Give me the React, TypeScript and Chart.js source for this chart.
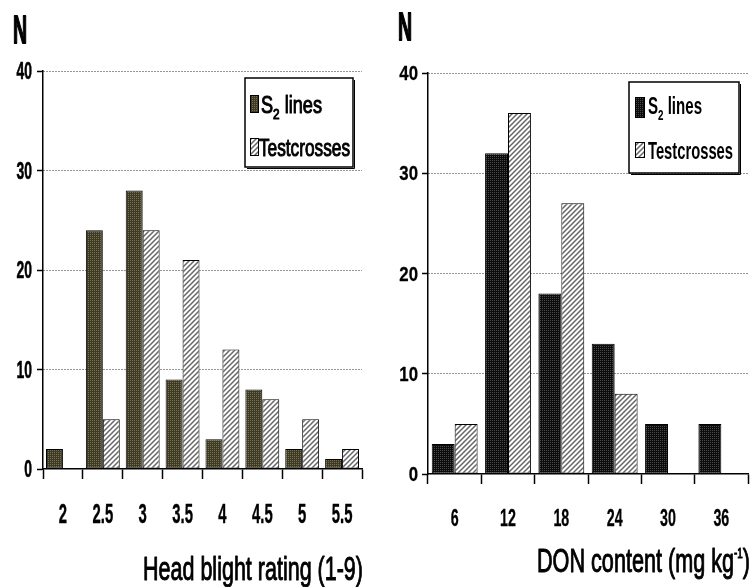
import React, { useEffect, useRef } from 'react';
import { Chart, registerables } from 'chart.js';

Chart.register(...registerables);

// ---------- data ----------
const ratingCategories = ['2', '2.5', '3', '3.5', '4', '4.5', '5', '5.5'];
const ratingS2Lines = [2, 24, 28, 9, 3, 8, 2, 1];
const ratingTestcrosses = [0, 5, 24, 21, 12, 7, 5, 2];

const donCategories = ['6', '12', '18', '24', '30', '36'];
const donS2Lines = [3, 32, 18, 13, 5, 5];
const donTestcrosses = [5, 36, 27, 8, 0, 0];

const yTickValues = [0, 10, 20, 30, 40];
const seriesNames = ['S₂ lines', 'Testcrosses'];
const yAxisLabel = 'N';
const leftXTitle = 'Head blight rating (1-9)';
const rightXTitleMain = 'DON content (mg kg';
const rightXTitleSup = '-1';
const rightXTitleEnd = ')';

// ---------- patterns ----------
function dotPattern(base: string, dot: string) {
  const c = document.createElement('canvas');
  c.width = 4;
  c.height = 4;
  const g = c.getContext('2d')!;
  g.fillStyle = base;
  g.fillRect(0, 0, 4, 4);
  g.fillStyle = dot;
  g.fillRect(0, 0, 1, 1);
  g.fillRect(2, 2, 1, 1);
  g.fillRect(2, 0, 1, 1);
  g.fillRect(0, 2, 1, 1);
  return g.createPattern(c, 'repeat') as CanvasPattern;
}

function hatchPattern() {
  const s = 5;
  const c = document.createElement('canvas');
  c.width = s;
  c.height = s;
  const g = c.getContext('2d')!;
  g.fillStyle = '#ffffff';
  g.fillRect(0, 0, s, s);
  g.strokeStyle = '#666666';
  g.lineWidth = 1.5;
  g.beginPath();
  g.moveTo(0, s);
  g.lineTo(s, 0);
  g.moveTo(-1, 1);
  g.lineTo(1, -1);
  g.moveTo(s - 1, s + 1);
  g.lineTo(s + 1, s - 1);
  g.stroke();
  return g.createPattern(c, 'repeat') as CanvasPattern;
}

// ---------- text helpers ----------
const FAM = '"Liberation Sans", Arial, sans-serif';

function drawScaled(
  ctx: CanvasRenderingContext2D,
  text: string,
  x: number,
  y: number,
  size: number,
  scaleX: number,
  weight = 'normal',
  align: 'left' | 'center' | 'right' = 'left',
  heavy = 0
) {
  ctx.save();
  ctx.font = `${weight} ${size}px ${FAM}`;
  ctx.textBaseline = 'alphabetic';
  ctx.textAlign = 'left';
  ctx.fillStyle = '#000';
  const w = ctx.measureText(text).width * scaleX;
  const sx = align === 'right' ? x - w : align === 'center' ? x - w / 2 : x;
  ctx.translate(sx, y);
  ctx.scale(scaleX, 1);
  ctx.fillText(text, 0, 0);
  if (heavy > 0) {
    ctx.strokeStyle = '#000';
    ctx.lineWidth = heavy;
    ctx.lineJoin = 'round';
    ctx.strokeText(text, 0, 0);
  }
  ctx.restore();
  return w;
}

function measure(ctx: CanvasRenderingContext2D, text: string, size: number, weight = 'normal') {
  ctx.save();
  ctx.font = `${weight} ${size}px ${FAM}`;
  const w = ctx.measureText(text).width;
  ctx.restore();
  return w;
}

// parts: [text, size, baselineOffset]
function drawFit(
  ctx: CanvasRenderingContext2D,
  parts: [string, number, number][],
  x: number,
  y: number,
  targetWidth: number,
  weight = 'normal',
  heavy = 0
) {
  let total = 0;
  parts.forEach(([t, s]) => (total += measure(ctx, t, s, weight)));
  const sx = targetWidth / total;
  let cx = x;
  parts.forEach(([t, s, dy]) => {
    cx += drawScaled(ctx, t, cx, y + dy, s, sx, weight, 'left', heavy);
  });
}

interface Box {
  x: number;
  y: number;
  w: number;
  h: number;
}

interface Decor {
  nX: number;
  nBase: number;
  legend: Box;
  sw1: Box;
  sw2: Box;
  t1: { x: number; base: number; w: number };
  t2: { x: number; base: number; w: number };
  legendWeight: string;
  legendHeavy: number;
  title: { x: number; base: number; w: number };
  titleParts: [string, number, number][];
  fills: [CanvasPattern, CanvasPattern];
  yTick: { size: number; scaleX: number; right: number; dy: number; heavy: number };
  xTick: { size: number; scaleX: number; base: number; heavy: number };
}

const decorPlugin = {
  id: 'panelDecor',
  afterDraw(chart: any, _args: any, opts: any) {
    const d: Decor = opts.decor;
    if (!d) return;
    const ctx: CanvasRenderingContext2D = chart.ctx;
    const xs = chart.scales.x;
    const ys = chart.scales.y;

    // tick labels, positioned by the chart's own scales
    xs.ticks.forEach((t: any, i: number) => {
      const label = String(xs.getLabelForValue(t.value));
      const px = xs.getPixelForTick(i);
      drawScaled(ctx, label, px, d.xTick.base, d.xTick.size, d.xTick.scaleX, 'bold', 'center', d.xTick.heavy);
    });
    ys.ticks.forEach((t: any) => {
      const py = ys.getPixelForValue(t.value);
      drawScaled(ctx, String(t.value), d.yTick.right, py + d.yTick.dy, d.yTick.size, d.yTick.scaleX, 'bold', 'right', d.yTick.heavy);
    });

    // N label
    drawScaled(ctx, yAxisLabel, d.nX, d.nBase, 39, 0.5, 'bold', 'left', 1.8);

    // legend box
    ctx.save();
    ctx.fillStyle = '#fff';
    ctx.fillRect(d.legend.x, d.legend.y, d.legend.w, d.legend.h);
    ctx.strokeStyle = '#000';
    ctx.lineWidth = 1.5;
    ctx.strokeRect(d.legend.x, d.legend.y, d.legend.w, d.legend.h);
    ctx.lineWidth = 1;
    ctx.beginPath();
    ctx.moveTo(d.legend.x + d.legend.w + 1.5, d.legend.y + 2);
    ctx.lineTo(d.legend.x + d.legend.w + 1.5, d.legend.y + d.legend.h + 1.5);
    ctx.lineTo(d.legend.x + 2, d.legend.y + d.legend.h + 1.5);
    ctx.stroke();
    [d.sw1, d.sw2].forEach((s, i) => {
      ctx.fillStyle = d.fills[i];
      ctx.fillRect(s.x, s.y, s.w, s.h);
      ctx.strokeStyle = '#000';
      ctx.lineWidth = 1;
      ctx.strokeRect(s.x + 0.5, s.y + 0.5, s.w - 1, s.h - 1);
    });
    ctx.restore();

    // legend texts
    drawFit(
      ctx,
      [
        ['S', 23, 0],
        ['2', 15, 6],
        [' lines', 23, 0],
      ],
      d.t1.x,
      d.t1.base,
      d.t1.w,
      d.legendWeight,
      d.legendHeavy
    );
    drawFit(ctx, [[seriesNames[1], 23, 0]], d.t2.x, d.t2.base, d.t2.w, d.legendWeight, d.legendHeavy);

    // axis title
    drawFit(ctx, d.titleParts, d.title.x, d.title.base, d.title.w, 'normal', 1);
  },
};

Chart.register(decorPlugin);

interface PanelSpec {
  categories: string[];
  s2: number[];
  tc: number[];
  s2Fill: CanvasPattern;
  tcFill: CanvasPattern;
  catPct: number;
  top: number;
  right: number;
  yWidth: number;
  xHeight: number;
  decor: Decor;
}

function makeConfig(p: PanelSpec): any {
  return {
    type: 'bar',
    data: {
      labels: p.categories,
      datasets: [
        {
          label: seriesNames[0],
          data: p.s2,
          backgroundColor: p.s2Fill,
          borderColor: '#000',
          borderWidth: 1,
          borderSkipped: false,
          categoryPercentage: p.catPct,
          barPercentage: 1,
        },
        {
          label: seriesNames[1],
          data: p.tc,
          backgroundColor: p.tcFill,
          borderColor: '#000',
          borderWidth: 1,
          borderSkipped: false,
          categoryPercentage: p.catPct,
          barPercentage: 1,
        },
      ],
    },
    options: {
      responsive: false,
      maintainAspectRatio: false,
      animation: false,
      events: [],
      layout: { padding: { top: p.top, right: p.right, left: 0, bottom: 0 } },
      plugins: {
        legend: { display: false },
        tooltip: { enabled: false },
        title: { display: false },
        panelDecor: { decor: p.decor },
      },
      scales: {
        x: {
          offset: true,
          grid: {
            offset: true,
            drawOnChartArea: false,
            drawTicks: true,
            tickLength: 10,
            tickColor: '#000',
            tickWidth: 1.5,
          },
          border: { display: true, color: '#000', width: 1.5 },
          ticks: { display: false, autoSkip: false, maxRotation: 0 },
          afterFit: (s: any) => {
            s.height = p.xHeight;
          },
        },
        y: {
          min: 0,
          max: 40,
          afterBuildTicks: (s: any) => {
            s.ticks = yTickValues.map((v) => ({ value: v }));
          },
          grid: {
            color: (c: any) => (c.tick && c.tick.value === 0 ? 'rgba(0,0,0,0)' : '#2a2a2a'),
            lineWidth: 1,
            tickColor: '#000',
            tickWidth: 1.5,
            tickLength: 6,
          },
          border: { display: true, color: '#000', width: 1.5, dash: [1, 2] },
          ticks: { display: false },
          afterFit: (s: any) => {
            s.width = p.yWidth;
          },
        },
      },
    },
  };
}

export default function App() {
  const leftRef = useRef<HTMLCanvasElement>(null);
  const rightRef = useRef<HTMLCanvasElement>(null);

  useEffect(() => {
    const hatch = hatchPattern();
    const olive = dotPattern('#3e3a26', '#77724f');
    const black = dotPattern('#0c0c0c', '#4a4a4a');

    const left = new Chart(
      leftRef.current!,
      makeConfig({
        categories: ratingCategories,
        s2: ratingS2Lines,
        tc: ratingTestcrosses,
        s2Fill: olive,
        tcFill: hatch,
        catPct: 0.85,
        top: 71,
        right: 14,
        yWidth: 43,
        xHeight: 118,
        decor: {
          nX: 13,
          nBase: 43,
          legend: { x: 245, y: 78, w: 108, h: 89 },
          sw1: { x: 250, y: 95, w: 9, h: 18 },
          sw2: { x: 250, y: 138, w: 9, h: 18 },
          t1: { x: 261, base: 113, w: 61 },
          t2: { x: 259, base: 156, w: 91 },
          legendWeight: 'normal',
          legendHeavy: 1,
          title: { x: 143, base: 580, w: 220 },
          titleParts: [[leftXTitle, 33, 0]],
          fills: [olive, hatch],
          yTick: { size: 24, scaleX: 0.58, right: 32, dy: 8, heavy: 0.6 },
          xTick: { size: 27, scaleX: 0.55, base: 523, heavy: 0.4 },
        },
      })
    );

    const right = new Chart(
      rightRef.current!,
      makeConfig({
        categories: donCategories,
        s2: donS2Lines,
        tc: donTestcrosses,
        s2Fill: black,
        tcFill: hatch,
        catPct: 0.86,
        top: 73,
        right: 5,
        yWidth: 52,
        xHeight: 113,
        decor: {
          nX: 22,
          nBase: 40,
          legend: { x: 253, y: 82, w: 110, h: 91 },
          sw1: { x: 259, y: 97, w: 10, h: 21 },
          sw2: { x: 259, y: 142, w: 10, h: 16 },
          t1: { x: 272, base: 114, w: 54 },
          t2: { x: 272, base: 159, w: 85 },
          legendWeight: 'bold',
          legendHeavy: 0,
          title: { x: 161, base: 572, w: 213 },
          titleParts: [
            [rightXTitleMain, 33, 0],
            [rightXTitleSup, 15, -14],
            [rightXTitleEnd, 33, 0],
          ],
          fills: [black, hatch],
          yTick: { size: 21, scaleX: 0.8, right: 42, dy: 7, heavy: 0.3 },
          xTick: { size: 23, scaleX: 0.62, base: 526, heavy: 0.3 },
        },
      })
    );

    return () => {
      left.destroy();
      right.destroy();
    };
  }, []);

  return (
    <div style={{ position: 'absolute', left: 0, top: 0, width: 753, height: 587, background: '#fff' }}>
      <canvas ref={leftRef} width={376} height={587} style={{ position: 'absolute', left: 0, top: 0 }} />
      <canvas ref={rightRef} width={377} height={587} style={{ position: 'absolute', left: 376, top: 0 }} />
    </div>
  );
}
